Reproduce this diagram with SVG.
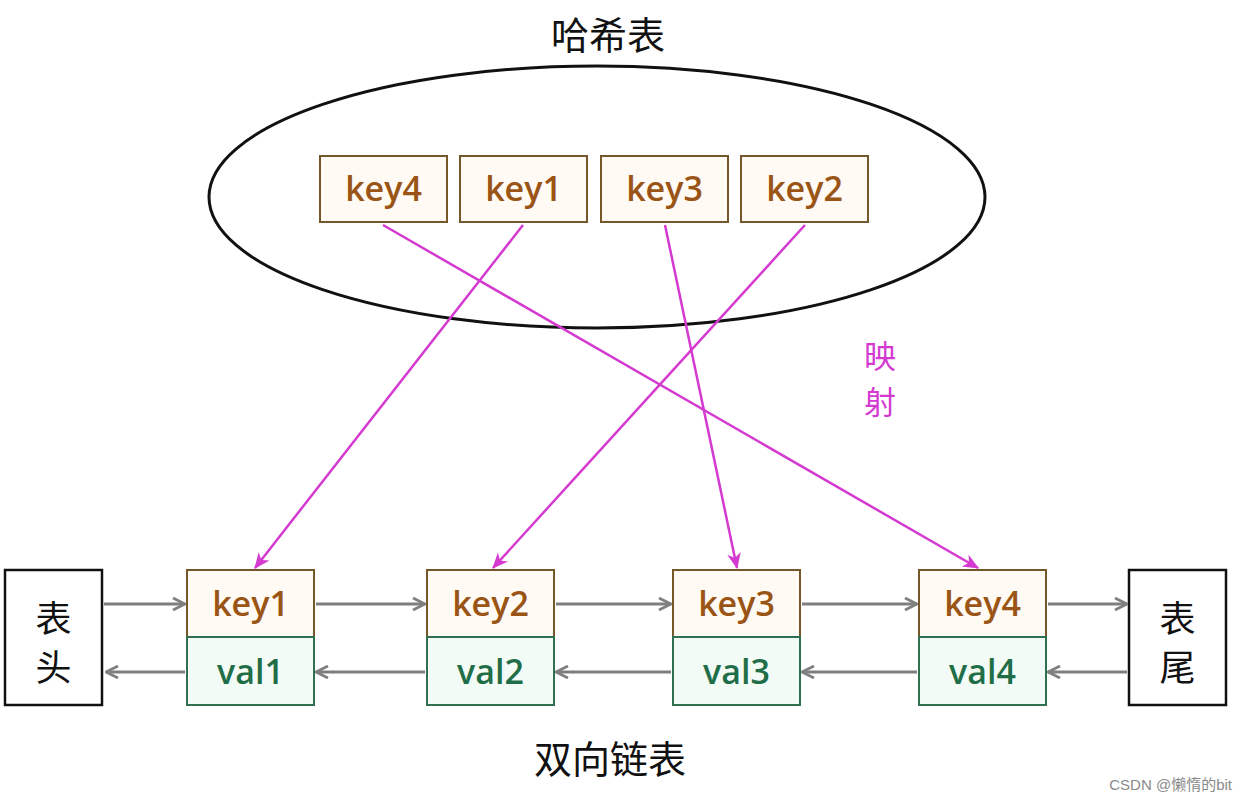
<svg xmlns="http://www.w3.org/2000/svg" width="1245" height="805" viewBox="0 0 1245 805">
<defs>
<marker id="ga" viewBox="0 0 14 14" refX="13" refY="7" markerWidth="14" markerHeight="14" markerUnits="userSpaceOnUse" orient="auto">
<path d="M1,1 L13,7 L1,13" fill="none" stroke="#7f7f7f" stroke-width="2.8"/>
</marker>
<marker id="ma" viewBox="0 0 14 14" refX="13" refY="7" markerWidth="16" markerHeight="16" markerUnits="userSpaceOnUse" orient="auto">
<path d="M0,1 L14,7 L0,13 L4,7 Z" fill="#d43ad0"/>
</marker>
</defs>
<style>
.cn{font-family:"Noto Sans CJK SC",sans-serif;fill:#111;}
.k{fill:#fffaf3;stroke:#74582c;stroke-width:2;}
.v{fill:#f3fbf7;stroke:#2f7050;stroke-width:2;}
.kt{font-family:"Open Sans",sans-serif;font-weight:600;font-size:34px;fill:#9a5516;text-anchor:middle;}
.vt{font-family:"Open Sans",sans-serif;font-weight:600;font-size:34px;fill:#1f6e48;text-anchor:middle;}
.end{fill:#fff;stroke:#111;stroke-width:2.5;}
.g{stroke:#7f7f7f;stroke-width:3;fill:none;marker-end:url(#ga);}
.m{stroke:#d43ad0;stroke-width:2.5;fill:none;marker-end:url(#ma);}
</style>
<rect width="1245" height="805" fill="#fff"/>
<text class="cn" x="608" y="49" font-size="38" text-anchor="middle">哈希表</text>
<ellipse cx="597" cy="197" rx="388" ry="131" fill="none" stroke="#111" stroke-width="3"/>
<g id="hkey4"><rect class="k" x="320" y="156" width="127" height="66"/><text class="kt" x="383.5" y="201">key4</text></g>
<g id="hkey1"><rect class="k" x="460" y="156" width="127" height="66"/><text class="kt" x="523.5" y="201">key1</text></g>
<g id="hkey3"><rect class="k" x="601" y="156" width="127" height="66"/><text class="kt" x="664.5" y="201">key3</text></g>
<g id="hkey2"><rect class="k" x="741" y="156" width="127" height="66"/><text class="kt" x="804.5" y="201">key2</text></g>
<g id="head"><rect class="end" x="5" y="570" width="97" height="135"/><text class="cn" x="53.5" y="632" font-size="36" text-anchor="middle">表</text><text class="cn" x="53.5" y="681" font-size="36" text-anchor="middle">头</text></g>
<g id="tail"><rect class="end" x="1129" y="570" width="97" height="135"/><text class="cn" x="1177.5" y="632" font-size="36" text-anchor="middle">表</text><text class="cn" x="1177.5" y="681" font-size="36" text-anchor="middle">尾</text></g>
<g id="node1"><rect class="k" x="187" y="570" width="127" height="67"/><rect class="v" x="187" y="637" width="127" height="68"/><text class="kt" x="250.5" y="616">key1</text><text class="vt" x="250.5" y="684">val1</text></g>
<g id="node2"><rect class="k" x="427" y="570" width="127" height="67"/><rect class="v" x="427" y="637" width="127" height="68"/><text class="kt" x="490.5" y="616">key2</text><text class="vt" x="490.5" y="684">val2</text></g>
<g id="node3"><rect class="k" x="673" y="570" width="127" height="67"/><rect class="v" x="673" y="637" width="127" height="68"/><text class="kt" x="736.5" y="616">key3</text><text class="vt" x="736.5" y="684">val3</text></g>
<g id="node4"><rect class="k" x="919" y="570" width="127" height="67"/><rect class="v" x="919" y="637" width="127" height="68"/><text class="kt" x="982.5" y="616">key4</text><text class="vt" x="982.5" y="684">val4</text></g>
<g id="connectors">
<path class="g" d="M104,604 H185"/>
<path class="g" d="M316,604 H425"/>
<path class="g" d="M556,604 H671"/>
<path class="g" d="M802,604 H917"/>
<path class="g" d="M1048,604 H1127"/>
<path class="g" d="M185,672 H106"/>
<path class="g" d="M425,672 H316"/>
<path class="g" d="M671,672 H556"/>
<path class="g" d="M917,672 H802"/>
<path class="g" d="M1127,672 H1048"/>
<path class="m" d="M523,225 L255,568"/>
<path class="m" d="M805,225 L493,568"/>
<path class="m" d="M665,225 L737,568"/>
<path class="m" d="M383,225 L978,568"/>
</g>
<text class="cn" x="880" y="368" font-size="32" text-anchor="middle" style="fill:#d43ad0">映</text>
<text class="cn" x="880" y="414" font-size="32" text-anchor="middle" style="fill:#d43ad0">射</text>
<text class="cn" x="610" y="773" font-size="38" text-anchor="middle">双向链表</text>
<text x="1232" y="790" font-family="'Liberation Sans','Noto Sans CJK SC',sans-serif" font-size="15" fill="#8a8a8a" text-anchor="end">CSDN @懒惰的bit</text>
</svg>
